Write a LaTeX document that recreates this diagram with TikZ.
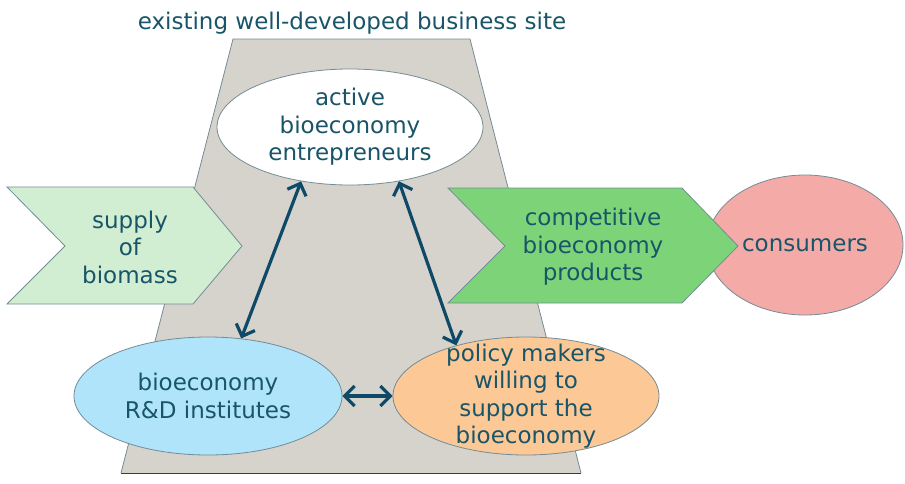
\documentclass[tikz,border=0pt]{standalone}
\usepackage{fontspec}
\setmainfont{DejaVu Sans}
\usetikzlibrary{shapes.geometric, arrows.meta}

\definecolor{txtblue}{RGB}{25,85,105}
\definecolor{arrowblue}{RGB}{14,74,104}
\definecolor{edgegray}{RGB}{115,140,150}
\definecolor{sitegray}{RGB}{214,211,204}
\definecolor{supplygreen}{RGB}{210,238,210}
\definecolor{productgreen}{RGB}{125,212,120}
\definecolor{consumerpink}{RGB}{244,170,166}
\definecolor{rdblue}{RGB}{176,228,250}
\definecolor{policyorange}{RGB}{252,200,150}

\begin{document}
\begin{tikzpicture}[x=1pt, y=-1pt,
        font=\fontsize{23}{27.5}\selectfont,
        every node/.style={text=txtblue, align=center},
        blob/.style={ellipse, draw=edgegray, line width=0.8pt, inner sep=0pt},
        chevron/.style={draw=edgegray, line width=0.8pt},
        link/.style={draw=arrowblue, line width=3.2pt,
            {Straight Barb[length=10pt,width=20pt,line width=3.2pt]}-{Straight Barb[length=10pt,width=20pt,line width=3.2pt]}}]
                \useasboundingbox (0,0) rectangle (905,483);

                % BUSINESS SITE
                \fill[sitegray] (233,39) -- (470,39) -- (581,473) -- (121,473) -- cycle;
                \draw[edgegray, line width=0.8pt] (121,473) -- (233,39) -- (470,39) -- (581,473);
                \draw[arrowblue, line width=1pt] (121,473) -- (581,473);
                \node[anchor=base] (site) at (352,29) {existing well-developed business site};

                % FLOW
                \draw[chevron, fill=supplygreen]
                    (7,187) -- (193,187) -- (242,246) -- (193,304) -- (7,304) -- (65,246) -- cycle;
                \node (supply) at (130,247) {supply\\of\\biomass};

                \node[blob, fill=consumerpink, minimum width=196pt, minimum height=140pt,
                    label={center:consumers}] (cons) at (805,245) {};

                \draw[chevron, fill=productgreen]
                    (448,188) -- (682,188) -- (738,246) -- (682,303) -- (448,303) -- (505,246) -- cycle;
                \node (prod) at (593,247) {competitive\\bioeconomy\\products};

                % ACTORS
                \node[blob, fill=white, minimum width=266pt, minimum height=116pt,
                    label={center:active\\bioeconomy\\entrepreneurs}] (ent) at (350,127) {};
                \node[blob, fill=rdblue, minimum width=268pt, minimum height=118pt,
                    label={center:bioeconomy\\R\&D institutes}] (rd) at (208,396) {};
                \node[blob, fill=policyorange, minimum width=266pt, minimum height=118pt,
                    label={center:policy makers\\willing to\\support the\\bioeconomy}] (pol) at (526,396) {};

                % LINKS
                \draw[link] (ent.228) -- (rd.60);
                \draw[link] (ent.312) -- (pol.144);
                \draw[link] (rd.east) -- (pol.west);

            \end{tikzpicture}
\end{document}
